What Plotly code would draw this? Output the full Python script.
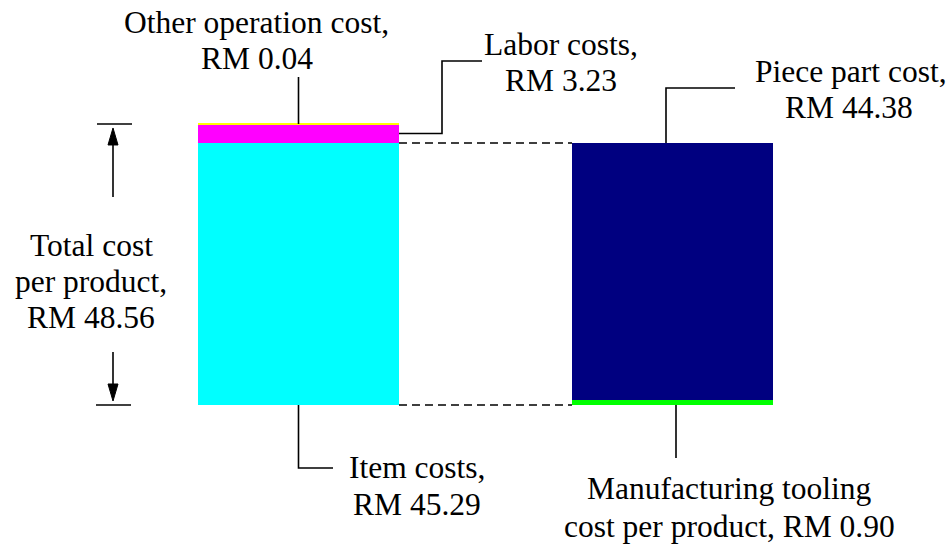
import plotly.graph_objects as go

# Cost breakdown per product (RM)
item_cost = 45.29
labor_cost = 3.23
other_cost = 0.04
total_cost = 48.56
tooling_cost = 0.90
piece_part_cost = 44.38

# bar positions: 0 = total cost per product, 1 = item cost breakdown
left_x = [0]
right_x = [1]

W, H = 952, 544
BAR_W = 0.5374
FONT = dict(family="Times New Roman", size=31.5, color="black")

# axis scale: y value 0 sits 405 px from the top, 5.787 px per RM
Y0_PX, Y_SCALE = 405.0, 5.787
X0_PX, X_SCALE = 298.5, 374.0


def xd(px):
    return (px - X0_PX) / X_SCALE


def yd(py):
    return (Y0_PX - py) / Y_SCALE


fig = go.Figure()
no_line = dict(width=0)
fig.add_trace(go.Bar(x=left_x, y=[item_cost], width=BAR_W,
                     marker=dict(color="#00FFFF", line=no_line)))
fig.add_trace(go.Bar(x=right_x, y=[tooling_cost], width=BAR_W,
                     marker=dict(color="#00FF00", line=no_line)))
fig.add_trace(go.Bar(x=left_x, y=[labor_cost], width=BAR_W,
                     marker=dict(color="#FF00FF", line=no_line)))
fig.add_trace(go.Bar(x=right_x, y=[piece_part_cost], width=BAR_W,
                     marker=dict(color="#000080", line=no_line)))
fig.add_trace(go.Bar(x=left_x, y=[other_cost], width=BAR_W,
                     marker=dict(color="#FFFF00", line=dict(color="#FFFF00", width=1))))

left_top = item_cost + labor_cost + other_cost
right_top = tooling_cost + piece_part_cost
lx, rx = left_x[0], right_x[0]
line = dict(color="black", width=1.6)
dash = dict(color="black", width=1.5, dash="8px,5px")

shapes = []


def seg(x0, y0, x1, y1, ln=line):
    shapes.append(dict(type="line", xref="x", yref="y", x0=x0, y0=y0, x1=x1, y1=y1, line=ln))


def poly(points, ln=line, fill=None):
    d = "M " + " L ".join(f"{x},{y}" for x, y in points)
    if fill:
        d += " Z"
    shapes.append(dict(type="path", xref="x", yref="y", path=d, line=ln,
                       fillcolor=fill if fill else "rgba(0,0,0,0)"))


# callouts
seg(lx, left_top, lx, yd(77))                                   # other operation cost
poly([(lx + BAR_W / 2, item_cost + labor_cost / 2),
      (xd(442), item_cost + labor_cost / 2),
      (xd(442), yd(61)), (xd(482), yd(61))])                    # labor costs
poly([(xd(666), right_top), (xd(666), yd(88)), (xd(735), yd(88))])  # piece part
poly([(lx, 0), (lx, yd(468)), (xd(333), yd(468))])              # item costs
seg(xd(676), 0, xd(676), yd(458))                               # tooling

# dashed guides linking item cost to the right bar
seg(lx + BAR_W / 2, item_cost, rx - BAR_W / 2, right_top, dash)
seg(lx + BAR_W / 2, 0, rx - BAR_W / 2, 0, dash)

# total-cost dimension arrows
ax = xd(113)
hw = 5 / X_SCALE
head = 17 / Y_SCALE
gap = 4 / Y_SCALE
seg(xd(97), total_cost, xd(132), total_cost)
seg(ax, total_cost - gap - head, ax, yd(197))
poly([(ax, total_cost - gap), (ax - hw, total_cost - gap - head),
      (ax + hw, total_cost - gap - head)], ln=dict(color="black", width=1), fill="black")
seg(xd(96), 0, xd(131), 0)
seg(ax, gap + head, ax, yd(352))
poly([(ax, gap), (ax - hw, gap + head), (ax + hw, gap + head)],
     ln=dict(color="black", width=1), fill="black")

# label text, one line per entry: (text, x px, y px)
labels = [
    ("Other operation cost,", 256, 23), (f"RM {other_cost:.2f}", 257, 59),
    ("Labor costs,", 561, 44), (f"RM {labor_cost:.2f}", 561, 80),
    ("Piece part cost,", 851, 72), (f"RM {piece_part_cost:.2f}", 849, 108),
    ("Total cost", 91, 245), ("per product,", 91, 281), (f"RM {total_cost:.2f}", 91, 317),
    ("Item costs,", 417, 467), (f"RM {item_cost:.2f}", 417, 504),
    ("Manufacturing tooling", 729, 488),
    (f"cost per product, RM {tooling_cost:.2f}", 729, 526),
]
annotations = [
    dict(text=t, x=px / W, y=1 - py / H, xref="paper", yref="paper",
         xanchor="center", yanchor="middle", showarrow=False, font=FONT)
    for t, px, py in labels
]

fig.update_layout(
    width=W, height=H, margin=dict(l=0, r=0, t=0, b=0),
    barmode="stack", showlegend=False,
    plot_bgcolor="white", paper_bgcolor="white",
    xaxis=dict(range=[xd(0), xd(W)], visible=False, fixedrange=True),
    yaxis=dict(range=[yd(H), yd(0)], visible=False, fixedrange=True),
    shapes=shapes, annotations=annotations,
)

fig.write_html("out.html")
